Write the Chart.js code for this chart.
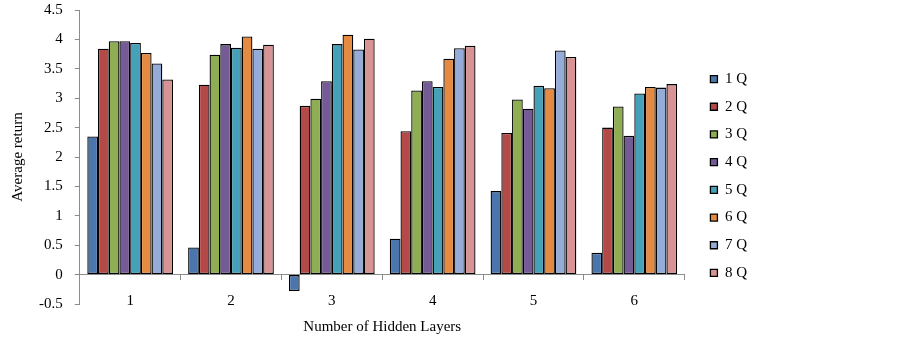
<!DOCTYPE html>
<html>
<head>
<meta charset="utf-8">
<script src="https://cdn.jsdelivr.net/npm/chart.js@4"></script>
<style>
  html, body { margin: 0; padding: 0; background: #fff; }
  #wrap { width: 903px; height: 340px; }
</style>
</head>
<body>
<div id="wrap"><canvas id="chart" width="903" height="340"></canvas></div>
<script>
// data
const layers = ["1", "2", "3", "4", "5", "6"];
const seriesNames = ["1 Q", "2 Q", "3 Q", "4 Q", "5 Q", "6 Q", "7 Q", "8 Q"];
const q1 = [2.35, 0.46, -0.28, 0.61, 1.42, 0.37];
const q2 = [3.84, 3.23, 2.87, 2.44, 2.41, 2.50];
const q3 = [3.97, 3.74, 2.99, 3.13, 2.98, 2.86];
const q4 = [3.97, 3.92, 3.29, 3.29, 2.82, 2.36];
const q5 = [3.94, 3.86, 3.92, 3.19, 3.21, 3.08];
const q6 = [3.77, 4.05, 4.08, 3.67, 3.17, 3.19];
const q7 = [3.59, 3.84, 3.83, 3.85, 3.81, 3.18];
const q8 = [3.32, 3.91, 4.01, 3.89, 3.70, 3.24];
const yMin = -0.5;
const yMax = 4.5;
const yStep = 0.5;

const seriesValues = [q1, q2, q3, q4, q5, q6, q7, q8];
const colors = ["#4a76ad", "#b34a48", "#8fad52", "#755b96", "#45a0b8", "#e58a41", "#95acd8", "#d89495"];

const serif = "'Liberation Serif', 'Times New Roman', serif";

const datasets = seriesNames.map((name, i) => ({
  label: name,
  data: seriesValues[i],
  backgroundColor: colors[i],
  borderColor: "#000",
  borderWidth: 1.3,
  borderSkipped: false,
  categoryPercentage: 0.85,
  barPercentage: 1.0,
}));

// nudge the legend so it sits where the original one does
const legendNudge = {
  id: "legendNudge",
  afterLayout(chart) {
    const lg = chart.legend;
    lg.left += 13;
    lg.right += 13;
    lg.top += 19;
    lg.bottom += 19;
  },
};

new Chart(document.getElementById("chart").getContext("2d"), {
  type: "bar",
  data: { labels: layers, datasets: datasets },
  plugins: [legendNudge],
  options: {
    responsive: false,
    animation: false,
    layout: { padding: { top: 10, right: 159, bottom: 36, left: 0 } },
    plugins: {
      tooltip: { enabled: false },
      legend: {
        position: "right",
        align: "center",
        labels: {
          boxWidth: 7,
          boxHeight: 7,
          padding: 12.7,
          color: "#000",
          font: { family: serif, size: 15 },
        },
      },
    },
    scales: {
      x: {
        position: { y: 0 },
        grid: {
          offset: true,
          drawOnChartArea: false,
          tickLength: 5,
          color: "#8c8c8c",
        },
        border: { color: "#8c8c8c", width: 1 },
        ticks: { color: "#000", padding: 12, font: { family: serif, size: 15 } },
        title: {
          display: true,
          text: "Number of Hidden Layers",
          color: "#000",
          font: { family: serif, size: 15 },
          padding: { top: -4, bottom: 0 },
        },
      },
      y: {
        min: yMin,
        max: yMax,
        afterFit(scale) {
          // let layout padding decide where the plot starts and ends
          scale.paddingTop = 0;
          scale.paddingBottom = 0;
        },
        ticks: {
          stepSize: yStep,
          color: "#000",
          padding: 12,
          font: { family: serif, size: 15 },
          callback: (v) => String(v),
        },
        grid: { drawOnChartArea: false, tickLength: 5, color: "#8c8c8c" },
        border: { color: "#8c8c8c", width: 1 },
        title: {
          display: true,
          text: "Average return",
          color: "#000",
          font: { family: serif, size: 15 },
          padding: { top: 9, bottom: 0 },
        },
      },
    },
  },
});
</script>
</body>
</html>
